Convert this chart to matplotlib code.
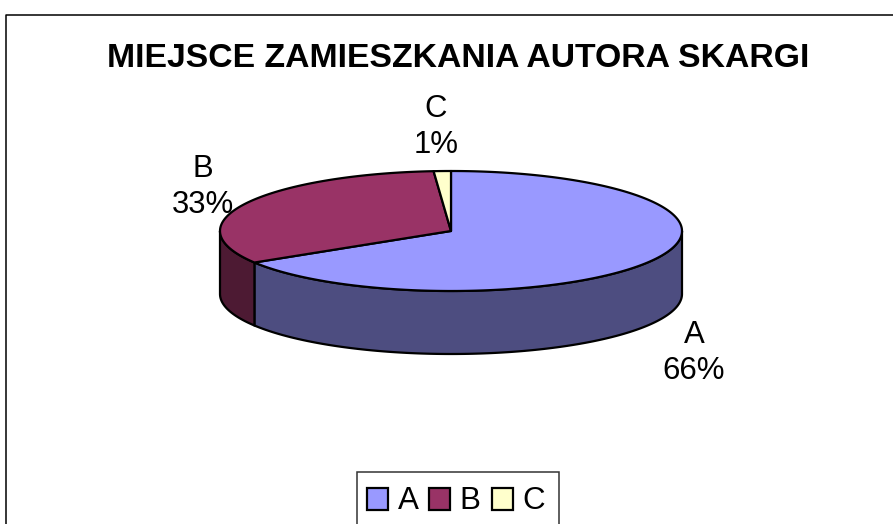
import numpy as np
import matplotlib
matplotlib.use("Agg")
import matplotlib.pyplot as plt
from matplotlib.patches import Polygon, Rectangle

plt.rcParams['font.family'] = ['Liberation Sans', 'DejaVu Sans']

title = "MIEJSCE ZAMIESZKANIA AUTORA SKARGI"
categories = ["A", "B", "C"]
values = [66.2, 32.6, 1.2]
top_colors = ["#9999FF", "#993366", "#FFFFCC"]
side_colors = ["#4D4D80", "#4D1A33", "#808066"]

W, H = 893, 524
cx, cy, rx, ry, depth = 451, 231, 231, 60, 63


def ellipse_pts(a1, a2, dy=0):
    # angles measured clockwise from the top, in radians
    t = np.linspace(a1, a2, max(int(abs(a2 - a1) * 60), 2))
    return np.column_stack([cx + rx * np.sin(t), cy + dy - ry * np.cos(t)])


fig = plt.figure(figsize=(W / 100, H / 100), dpi=100)
ax = fig.add_axes([0, 0, 1, 1])
ax.set_xlim(0, W)
ax.set_ylim(H, 0)
ax.axis("off")

# outer chart frame, open on the right and bottom edges
ax.plot([5.5, 5.5, W + 2], [H + 2, 14.5, 14.5], color="black", lw=1.1, clip_on=False)

ax.text(458, 58.5, title, fontsize=24.3, fontweight="bold", ha="center", va="center",
        color="black")

fractions = np.array(values) / sum(values)
edges = np.concatenate([[0], np.cumsum(fractions)]) * 2 * np.pi

# side walls, only the part of the rim facing the viewer
for i in range(len(values)):
    a1 = max(edges[i], np.pi / 2)
    a2 = min(edges[i + 1], 3 * np.pi / 2)
    if a2 <= a1:
        continue
    front = ellipse_pts(a1, a2)
    back = ellipse_pts(a1, a2, depth)[::-1]
    ax.add_patch(Polygon(np.vstack([front, back]), closed=True,
                         facecolor=side_colors[i], edgecolor="black", lw=1.6,
                         joinstyle="round"))

# top faces
for i in range(len(values)):
    rim = ellipse_pts(edges[i], edges[i + 1])
    ax.add_patch(Polygon(np.vstack([[cx, cy], rim]), closed=True,
                         facecolor=top_colors[i], edgecolor="black", lw=1.6,
                         joinstyle="round"))

# data labels
label_pos = [(694, 353), (203, 187), (436, 127)]
for name, val, (lx, ly) in zip(categories, values, label_pos):
    ax.text(lx, ly, f"{name}\n{val:.0f}%", fontsize=22.4, ha="center", va="center",
            linespacing=1.3, color="black")

# legend box
ax.add_patch(Rectangle((357, 472), 202, 60, facecolor="white", edgecolor="#333333",
                       lw=1.1, clip_on=True))
swatch_x = [367, 429, 492]
text_x = [408, 470, 534]
for name, c, sx, tx in zip(categories, top_colors, swatch_x, text_x):
    ax.add_patch(Rectangle((sx, 488), 21, 22, facecolor=c, edgecolor="black", lw=1.6))
    ax.text(tx, 501, name, fontsize=22.6, ha="center", va="center", color="black")

fig.savefig("out.png", dpi=100)
